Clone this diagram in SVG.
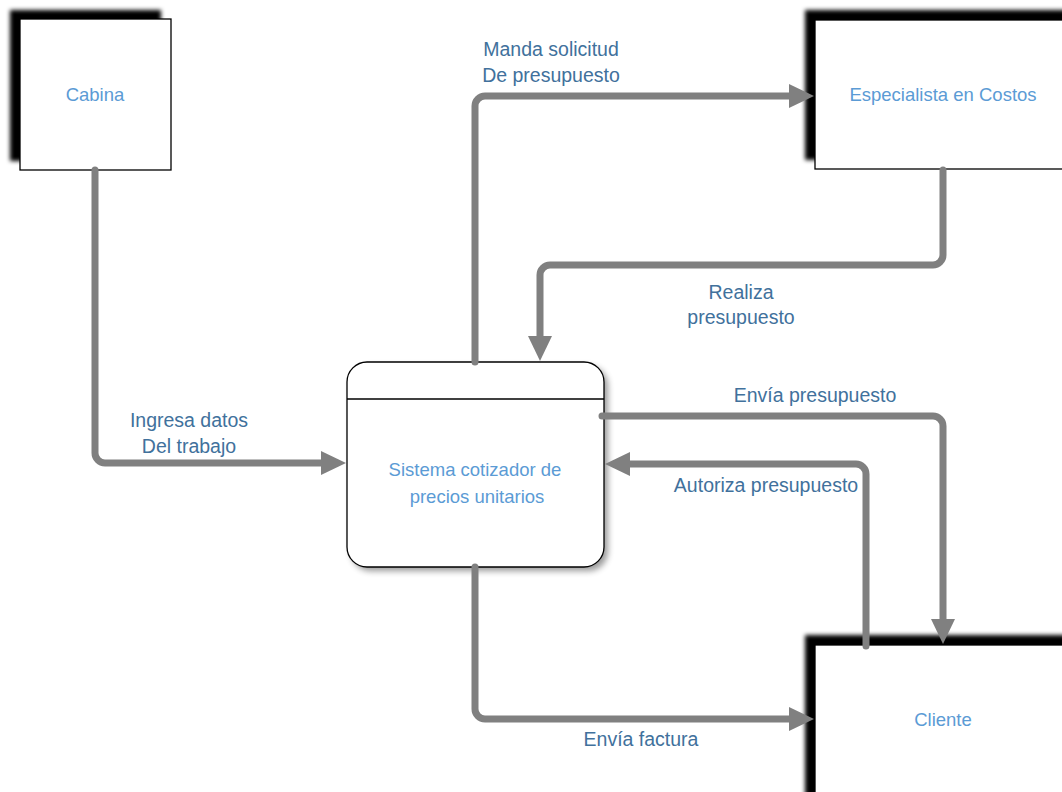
<svg xmlns="http://www.w3.org/2000/svg" width="1062" height="792" viewBox="0 0 1062 792">
<style>
.ent{fill:#fff;stroke:#000;stroke-width:1.3}
.shd{fill:#000;filter:url(#blur)}
.node{font-family:"Liberation Sans",Arial,sans-serif;font-size:18.5px;fill:#5b9bd5;text-anchor:middle}
.lbl{font-family:"Liberation Sans",Arial,sans-serif;font-size:19.5px;fill:#41719c;text-anchor:middle}
.con{fill:none;stroke:#808080;stroke-width:7;stroke-linecap:round;stroke-linejoin:round;marker-end:url(#arr)}
</style>
<defs>
<filter id="blur" x="-20%" y="-20%" width="140%" height="140%"><feGaussianBlur stdDeviation="2.2"/></filter>
<filter id="pshd" x="-20%" y="-20%" width="140%" height="140%"><feGaussianBlur stdDeviation="3"/></filter>
<marker id="arr" viewBox="0 0 25 24" refX="1" refY="12" markerWidth="25" markerHeight="24" markerUnits="userSpaceOnUse" orient="auto">
<path d="M0,0 L25,12 L0,24 Z" fill="#808080"/>
</marker>
</defs>
<rect width="1062" height="792" fill="#fff"/>
<g id="cabina">
<rect class="shd" x="10" y="10" width="151" height="151"/>
<rect class="ent" x="20" y="19" width="151" height="151"/>
<text class="node" x="95" y="101">Cabina</text>
</g>
<g id="especialista">
<rect class="shd" x="805" y="10" width="280" height="150"/>
<rect class="ent" x="815" y="20" width="280" height="149"/>
<text class="node" x="943" y="101">Especialista en Costos</text>
</g>
<g id="cliente">
<rect class="shd" x="805" y="635" width="280" height="180"/>
<rect class="ent" x="815" y="645" width="280" height="180"/>
<text class="node" x="943" y="726">Cliente</text>
</g>
<g id="sistema">
<rect x="351" y="366" width="257" height="205" rx="20" fill="#000" opacity="0.4" filter="url(#pshd)"/>
<rect x="347" y="362" width="257" height="205" rx="20" fill="#fff" stroke="#000" stroke-width="1.3"/>
<line x1="347" y1="399" x2="604" y2="399" stroke="#000" stroke-width="1.3"/>
<text class="node" x="475" y="476">Sistema cotizador de</text>
<text class="node" x="477" y="503">precios unitarios</text>
</g>
<g id="connectors">
<path class="con" d="M95,170 V453 A10,10 0 0 0 105,463 H322"/>
<path class="con" d="M475,362 V106 A10,10 0 0 1 485,96 H790"/>
<path class="con" d="M943,170 V255 A10,10 0 0 1 933,265 H550 A10,10 0 0 0 540,275 V337"/>
<path class="con" d="M602,416 H933 A10,10 0 0 1 943,426 V620"/>
<path class="con" d="M866,646 V474 A10,10 0 0 0 856,464 H629"/>
<path class="con" d="M475,567 V709 A10,10 0 0 0 485,719 H790"/>
</g>
<g id="labels">
<text class="lbl" x="551" y="56">Manda solicitud</text>
<text class="lbl" x="551" y="82">De presupuesto</text>
<text class="lbl" x="741" y="299">Realiza</text>
<text class="lbl" x="741" y="324">presupuesto</text>
<text class="lbl" x="189" y="427">Ingresa datos</text>
<text class="lbl" x="189" y="453">Del trabajo</text>
<text class="lbl" x="815" y="402">Envía presupuesto</text>
<text class="lbl" x="766" y="492">Autoriza presupuesto</text>
<text class="lbl" x="641" y="746">Envía factura</text>
</g>
</svg>
